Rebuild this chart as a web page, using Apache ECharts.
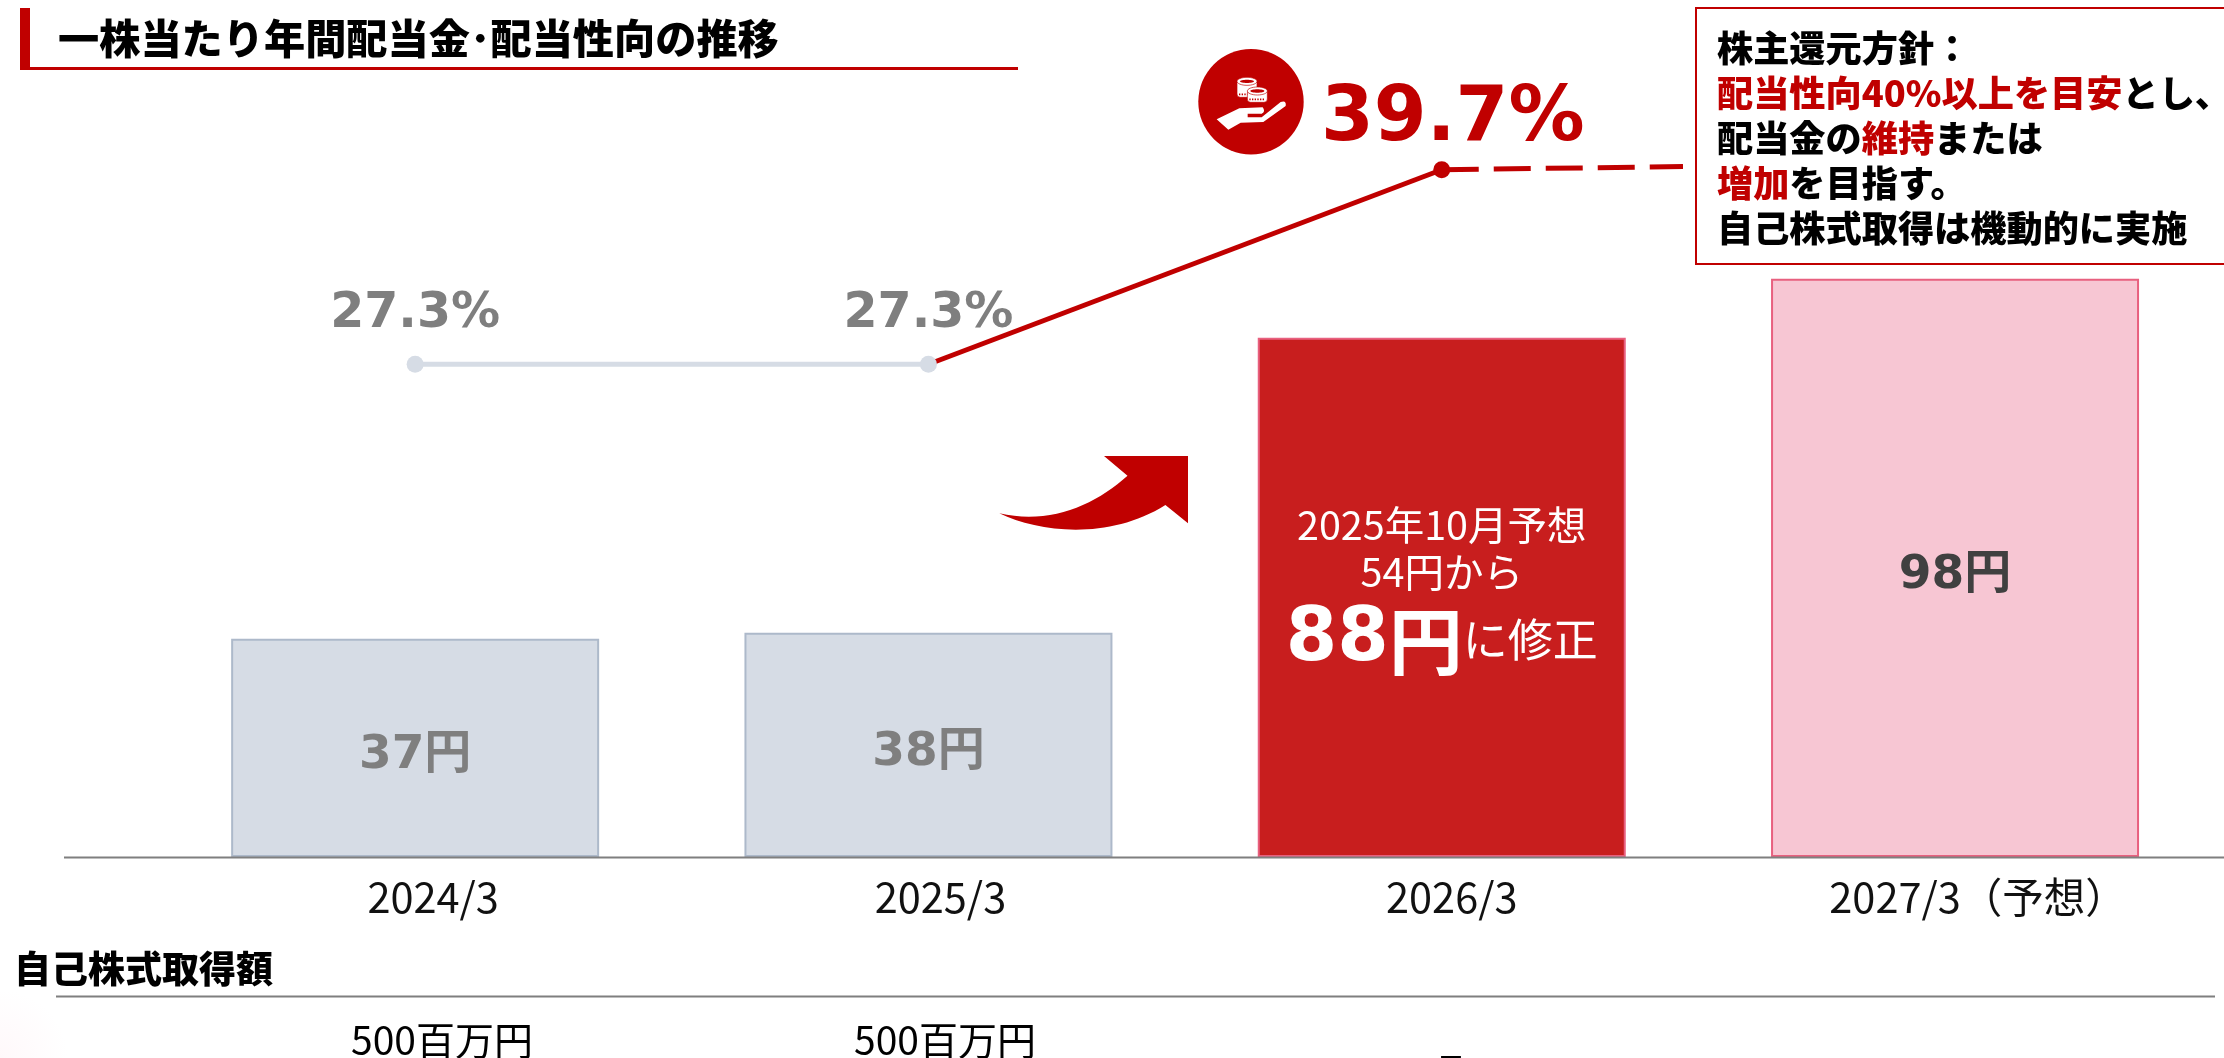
<!DOCTYPE html>
<html><head><meta charset="utf-8">
<style>html,body{margin:0;padding:0;background:#fff}#c{width:2224px;height:1058px}</style>
<script src="https://cdn.jsdelivr.net/npm/echarts@6/dist/echarts.min.js"></script>
</head><body><div id="c"></div>
<script>
const categories = ['2024/3','2025/3','2026/3','2027/3（予想）'];
const dividends = [37,38,88,98];
const payoutActual = [27.3,27.3];
const payoutRise = [27.3,39.7];
const payoutTarget = [39.7,39.9];
const buyback = ['500百万円','500百万円','－'];
const titleText = '一株当たり年間配当金･配当性向の推移';
const buybackTitle = '自己株式取得額';

const JP = "'Noto Sans CJK JP'";
const LATIN = "'DejaVu Sans','Noto Sans CJK JP'";
const RED = '#C00000';
const labelNudge = [18,12,10,23];

echarts.graphic.registerShape('curvedArrow', echarts.graphic.extendPath(
  'M1188 456 L1104 456 L1127.5 475.7 C1095 505 1050 525 999.3 513.3 C1040 533 1110 540 1165.4 505 L1188 523.3 Z'));
echarts.graphic.registerShape('handIcon', echarts.graphic.extendPath(
  'M110 268 L178 235 L248 232 Q258 245 245 251 L203 251 L203 262 L245 262 L302 216 Q320 210 317 228 L250 276 L182 278 L145 299 Z'));

const chart = echarts.init(document.getElementById('c'), null, {renderer:'canvas'});

const barStyles = [
  {color:'#D6DCE5',borderColor:'#ADB9CA'},
  {color:'#D6DCE5',borderColor:'#ADB9CA'},
  {color:'#C81E1E',borderColor:'#E8607F'},
  {color:'#F7C6D3',borderColor:'#E8607F'}
];
const pctLabel = (color,size,dist,ox)=>({show:true,position:'top',distance:dist,offset:[ox,0],
  formatter:p=>p.value[1].toFixed(1)+'%',color,fontFamily:LATIN,fontWeight:'bold',fontSize:size});

const policyLines = [
  '{k|株主還元方針：}',
  '{r|配当性向40%以上を目安}{k|とし、}',
  '{k|配当金の}{r|維持}{k|または}',
  '{r|増加}{k|を目指す。}',
  '{k|自己株式取得は機動的に実施}'
];
const tx = (text,x,y,size,weight,color,align)=>({type:'text',x,y,z:10,style:{text,fontFamily:JP,fontSize:size,fontWeight:weight,fill:color,align:align||'center',verticalAlign:'middle'}});
const buybackX = [442,945,1451];
const buybackY = [1040,1040,1057];
const buybackSize = [39,39,28];
const buybackWeight = ['normal','normal','bold'];
const coin = (x,y,w,h)=>[
  {type:'rect',z:8,shape:{x,y:y+8,width:w,height:h-8,r:10},style:{fill:'#fff',stroke:RED,lineWidth:2}},
  {type:'ellipse',z:8,shape:{cx:x+w/2,cy:y+12,rx:w/2,ry:12},style:{fill:'#fff',stroke:RED,lineWidth:2}},
  {type:'ellipse',z:8,shape:{cx:x+w/2,cy:y+12,rx:w/2-9,ry:5},style:{fill:RED}},
  {type:'line',z:8,shape:{x1:x+6,y1:y+h-9,x2:x+w-6,y2:y+h-9},style:{stroke:RED,lineWidth:5,lineDash:[4,4]}}
];

const option = {
  animation:false,
  backgroundColor:'#fff',
  grid:{left:158.5,width:2053.2,top:119.5,height:737.5,containLabel:false},
  xAxis:[
    {type:'category',data:categories,axisLine:{show:false},axisTick:{show:false},
     axisLabel:{margin:19,fontFamily:JP,fontSize:41.5,color:'#111',interval:0,
       formatter:(v,i)=>`{s${i}|${v}}`,
       rich:Object.fromEntries(labelNudge.map((n,i)=>['s'+i,{fontFamily:JP,fontSize:41.5,color:'#111',
         padding:[0,0,0,n*2]}]))}},
    {type:'value',min:0,max:4,show:false}
  ],
  yAxis:[
    {type:'value',min:0,max:125,show:false,splitLine:{show:false}},
    {type:'value',min:-4.1,max:42.9,show:false,splitLine:{show:false}}
  ],
  series:[
    {type:'bar',xAxisIndex:0,yAxisIndex:0,barWidth:368,z:2,
     data:dividends.map((v,i)=>{
       const d={value:v,itemStyle:{...barStyles[i],borderWidth:2}};
       if(i===2){
         d.label={show:true,position:'inside',offset:[0,-4],
           formatter:'{a|2025年10月予想}\n{a|54円から}\n{b|88}{c|円}{d|に修正}',
           rich:{
             a:{fontFamily:JP,fontSize:39.5,color:'#fff',lineHeight:47,align:'center'},
             b:{fontFamily:LATIN,fontWeight:'bold',fontSize:74,color:'#fff',lineHeight:90},
             c:{fontFamily:JP,fontWeight:'bold',fontSize:74,color:'#fff',lineHeight:90},
             d:{fontFamily:JP,fontSize:45,color:'#fff',lineHeight:90}
           }};
       } else {
         d.label={show:true,position:'inside',offset:[0,8],formatter:v+'円',fontFamily:LATIN,fontWeight:'bold',fontSize:47,
           color:i===3?'#404040':'#7F7F7F'};
       }
       return d;
     })},
    {type:'line',xAxisIndex:1,yAxisIndex:1,z:3,symbol:'none',
     data:payoutTarget.map((v,i)=>[2.5+i*0.47,v]),
     lineStyle:{color:RED,width:5,type:[37,15]}},
    {type:'line',xAxisIndex:1,yAxisIndex:1,z:4,symbol:'circle',symbolSize:17,
     data:payoutRise.map((v,i)=>[1.5+i,v]).map((d,i)=>i===1
       ?{value:d,itemStyle:{color:RED},label:pctLabel(RED,76,3,11)}
       :{value:d,symbol:'none',label:{show:false}}),
     lineStyle:{color:RED,width:5}},
    {type:'line',xAxisIndex:1,yAxisIndex:1,z:5,symbol:'circle',symbolSize:17,
     data:payoutActual.map((v,i)=>({value:[0.5+i,v],label:pctLabel('#7F7F7F',49,17,0)})),
     itemStyle:{color:'#D6DCE5'},lineStyle:{color:'#D6DCE5',width:5}}
  ],
  graphic:[
    {type:'rect',z:0,shape:{x:0,y:990,width:120,height:68},style:{fill:{type:'radial',x:0,y:1,r:1,colorStops:[{offset:0,color:'#FFF8FA'},{offset:1,color:'#FFFFFF'}]}}},
    {type:'rect',shape:{x:20,y:8,width:10,height:61},style:{fill:RED},z:10},
    {type:'line',shape:{x1:20,y1:68.5,x2:1018,y2:68.5},style:{stroke:RED,lineWidth:3},z:10},
    tx(titleText,58,38,41.2,'900','#000','left'),
    {type:'line',shape:{x1:64,y1:857.5,x2:2224,y2:857.5},style:{stroke:'#7F7F7F',lineWidth:2},z:10},
    {type:'line',shape:{x1:56,y1:996.5,x2:2215,y2:996.5},style:{stroke:'#7F7F7F',lineWidth:2},z:10},
    tx(buybackTitle,14,969,37,'900','#000','left'),
    ...buyback.map((t,i)=>tx(t,buybackX[i],buybackY[i],buybackSize[i],buybackWeight[i],'#000')),
    {type:'rect',shape:{x:1696,y:8,width:540,height:256},style:{fill:'#fff',stroke:RED,lineWidth:2},z:9},
    {type:'text',x:1717,y:26,z:10,style:{text:policyLines.join('\n'),align:'left',verticalAlign:'top',
      rich:{
        k:{fontFamily:JP,fontWeight:'900',fontSize:36.2,fill:'#000',lineHeight:45},
        r:{fontFamily:JP,fontWeight:'900',fontSize:36.2,fill:RED,lineHeight:45}
      }}},
    {type:'curvedArrow',z:6,style:{fill:RED}},
    {type:'circle',z:6,shape:{cx:1251,cy:101.7,r:52.7},style:{fill:RED}},
    {type:'group',x:1180,y:30,scaleX:1/3,scaleY:1/3,z:7,children:[
      {type:'handIcon',z:7,style:{fill:'#fff'}},
      ...coin(171,142,60,60),
      ...coin(202,171,60,46)
    ]}
  ]
};
chart.setOption(option);
</script></body></html>
